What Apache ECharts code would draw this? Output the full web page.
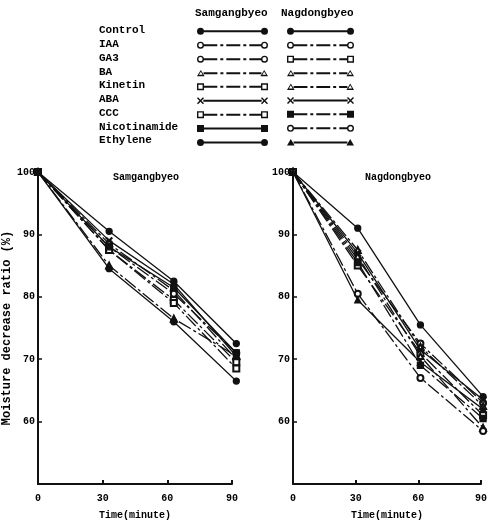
<!DOCTYPE html>
<html>
<head>
<meta charset="utf-8">
<script src="https://cdn.jsdelivr.net/npm/echarts@6/dist/echarts.min.js"></script>
<style>
  html, body { margin: 0; padding: 0; background: #fff; }
  #chart { width: 490px; height: 525px; }
</style>
</head>
<body>
<div id="chart"></div>
<script>
// treatments, in legend order
const treatments = ['Control', 'IAA', 'GA3', 'BA', 'Kinetin', 'ABA', 'CCC', 'Nicotinamide', 'Ethylene']
const varieties = ['Samgangbyeo', 'Nagdongbyeo']

// time (minute) of each reading, as plotted
const samgangTimes = [0, 33, 63, 92]
const nagdongTimes = [0, 31, 61, 91]

// moisture decrease ratio (%), one row per treatment
const samgangValues = [
  [100, 90.5, 82.5, 72.5],
  [100, 88.5, 81, 70],
  [100, 88, 80.5, 71],
  [100, 85, 76.5, 70.5],
  [100, 87.5, 79.5, 69.5],
  [100, 89, 82, 70.5],
  [100, 87.5, 79, 68.5],
  [100, 88, 81.5, 71],
  [100, 84.5, 76, 66.5]
]
const nagdongValues = [
  [100, 91, 75.5, 64],
  [100, 86, 72.5, 63],
  [100, 85, 71, 61],
  [100, 87.5, 72, 62.5],
  [100, 86.5, 70.5, 59],
  [100, 87, 71.5, 63.5],
  [100, 85.5, 69, 60.5],
  [100, 80.5, 67, 58.5],
  [100, 79.5, 69.5, 62]
]

const xTicks = [0, 30, 60, 90]

// styles
const INK = '#111'
const FONT = '"Liberation Mono", "DejaVu Sans Mono", monospace'
const CROSS = 'path://M0,1 L1,0 L5,4 L9,0 L10,1 L6,5 L10,9 L9,10 L5,6 L1,10 L0,9 L4,5 Z'
const DASHDOT = [14, 3, 3, 3]
const samSymbols = ['circle', 'emptyCircle', 'emptyCircle', 'emptyTriangle', 'emptyRect', 'cross', 'emptyRect', 'rect', 'circle']
const samDash = ['solid', DASHDOT, DASHDOT, DASHDOT, DASHDOT, 'solid', DASHDOT, 'solid', 'solid']
const nagSymbols = ['circle', 'emptyCircle', 'emptyRect', 'emptyTriangle', 'emptyTriangle', 'cross', 'rect', 'emptyCircle', 'triangle']
const nagDash = ['solid', DASHDOT, DASHDOT, DASHDOT, DASHDOT, 'solid', DASHDOT, DASHDOT, 'solid']

const seriesSymbol = s => s === 'cross' ? CROSS : s

// legend key: a path with the symbol at both ends of a (dashed) line
const f = n => +n.toFixed(2)
const shapePath = (type, x, cy, r) => {
  const ri = r - 1.4
  const circle = (rr, sweep) => `M${f(x + rr)},${cy} A${rr},${rr} 0 1,${sweep} ${f(x - rr)},${cy} A${rr},${rr} 0 1,${sweep} ${f(x + rr)},${cy} Z `
  const square = (rr, cw) => cw
    ? `M${f(x - rr)},${f(cy - rr)} L${f(x + rr)},${f(cy - rr)} L${f(x + rr)},${f(cy + rr)} L${f(x - rr)},${f(cy + rr)} Z `
    : `M${f(x - rr)},${f(cy - rr)} L${f(x - rr)},${f(cy + rr)} L${f(x + rr)},${f(cy + rr)} L${f(x + rr)},${f(cy - rr)} Z `
  const tri = (rr, cw) => cw
    ? `M${x},${f(cy - rr)} L${f(x + rr * 1.1)},${f(cy + rr * 0.85)} L${f(x - rr * 1.1)},${f(cy + rr * 0.85)} Z `
    : `M${x},${f(cy - rr)} L${f(x - rr * 1.1)},${f(cy + rr * 0.85)} L${f(x + rr * 1.1)},${f(cy + rr * 0.85)} Z `
  switch (type) {
    case 'circle': return circle(r, 1)
    case 'emptyCircle': return circle(r, 1) + circle(ri, 0)
    case 'rect': return square(r, true)
    case 'emptyRect': return square(r, true) + square(r - 1.4, false)
    case 'triangle': return tri(r, true)
    case 'emptyTriangle': return tri(r, true) + tri(r - 1.8, false)
    case 'cross': {
      const a = r, w = 1
      return `M${f(x - a)},${f(cy - a + w)} L${f(x - a + w)},${f(cy - a)} L${x},${f(cy - w)} L${f(x + a - w)},${f(cy - a)} L${f(x + a)},${f(cy - a + w)} L${f(x + w)},${cy} L${f(x + a)},${f(cy + a - w)} L${f(x + a - w)},${f(cy + a)} L${x},${f(cy + w)} L${f(x - a + w)},${f(cy + a)} L${f(x - a)},${f(cy + a - w)} L${f(x - w)},${cy} Z `
    }
  }
  return ''
}
const legendIcon = (type, dash, width) => {
  const cy = 4, r = 3.5, th = 1
  const x1 = r, x2 = width - r
  let p = 'path://M0,0 ' + shapePath(type, x1, cy, r) + shapePath(type, x2, cy, r)
  const seg = (a, b) => `M${f(a)},${f(cy - th)} L${f(b)},${f(cy - th)} L${f(b)},${f(cy + th)} L${f(a)},${f(cy + th)} Z `
  const start = x1 + r * 0.8, end = x2 - r * 0.8
  if (dash === 'solid') {
    p += seg(start, end)
  } else {
    let x = start, k = 0
    while (x < end) {
      const len = dash[k % dash.length]
      if (k % 2 === 0) p += seg(x, Math.min(x + len, end))
      x += len
      k++
    }
  }
  return p
}

const makeSeries = (variety, idx, times, values, symbols, dashes) =>
  treatments.map((t, i) => ({
    name: variety + ' ' + t,
    type: 'line',
    xAxisIndex: idx,
    yAxisIndex: idx,
    clip: false,
    symbol: seriesSymbol(symbols[i]),
    symbolSize: 6,
    itemStyle: { color: INK, borderColor: INK, borderWidth: 1.3 },
    lineStyle: { color: INK, width: 1.3, type: dashes[i] },
    emphasis: { disabled: true },
    data: times.map((x, j) => [x, values[i][j]])
  }))

const axisText = { color: '#000', fontFamily: FONT, fontWeight: 'bold', fontSize: 10 }

const xAxisFor = idx => ({
  type: 'value',
  gridIndex: idx,
  min: 0,
  max: 90,
  interval: 30,
  name: 'Time(minute)',
  nameLocation: 'middle',
  nameGap: 26,
  nameTextStyle: axisText,
  axisLine: { lineStyle: { color: INK, width: 2 } },
  axisTick: { inside: true, length: 4, lineStyle: { color: INK, width: 2 } },
  axisLabel: Object.assign({ margin: 9, formatter: v => xTicks.includes(v) ? v : '' }, axisText),
  splitLine: { show: false }
})

const yAxisFor = idx => ({
  type: 'value',
  gridIndex: idx,
  min: 50,
  max: 100,
  interval: 10,
  name: idx === 0 ? 'Moisture decrease ratio (%)' : '',
  nameLocation: 'middle',
  nameGap: 21,
  nameTextStyle: Object.assign({}, axisText, { fontSize: 12 }),
  axisLine: { lineStyle: { color: INK, width: 2 } },
  axisTick: { inside: true, length: 4, lineStyle: { color: INK, width: 1.5 } },
  axisLabel: Object.assign({ margin: 3, showMinLabel: false }, axisText),
  splitLine: { show: false }
})

const legendFor = (variety, left, width, symbols, dashes) => ({
  data: treatments.map((t, i) => ({
    name: variety + ' ' + t,
    icon: legendIcon(symbols[i], dashes[i], width)
  })),
  orient: 'vertical',
  left: left,
  top: 27,
  padding: 0,
  itemWidth: width,
  itemHeight: 8,
  itemGap: 6.2,
  selectedMode: false,
  itemStyle: { color: INK, borderWidth: 0 },
  formatter: () => '',
  textStyle: { fontSize: 1 }
})

const labelText = (text, x, y) => ({
  type: 'text',
  left: x,
  top: y,
  style: { text: text, fill: '#000', font: 'bold 11px ' + FONT }
})

const chart = echarts.init(document.getElementById('chart'))

chart.setOption({
  backgroundColor: '#fff',
  animation: false,
  title: [
    { text: varieties[0], left: 108, top: 167, textStyle: { color: '#000', fontFamily: FONT, fontWeight: 'bold', fontSize: 10 } },
    { text: varieties[1], left: 360, top: 167, textStyle: { color: '#000', fontFamily: FONT, fontWeight: 'bold', fontSize: 10 } }
  ],
  grid: [
    { left: 38, right: 258, top: 172, bottom: 33 },
    { left: 293, right: 6, top: 172, bottom: 33 }
  ],
  xAxis: [xAxisFor(0), xAxisFor(1)],
  yAxis: [yAxisFor(0), yAxisFor(1)],
  legend: [
    legendFor(varieties[0], 197, 71, samSymbols, samDash),
    legendFor(varieties[1], 287, 67, nagSymbols, nagDash)
  ],
  graphic: [
    labelText(varieties[0], 195, 8),
    labelText(varieties[1], 281, 8)
  ].concat(treatments.map((t, i) => labelText(t, 99, 25 + i * 13.75))),
  series: makeSeries(varieties[0], 0, samgangTimes, samgangValues, samSymbols, samDash)
    .concat(makeSeries(varieties[1], 1, nagdongTimes, nagdongValues, nagSymbols, nagDash))
})
</script>
</body>
</html>
